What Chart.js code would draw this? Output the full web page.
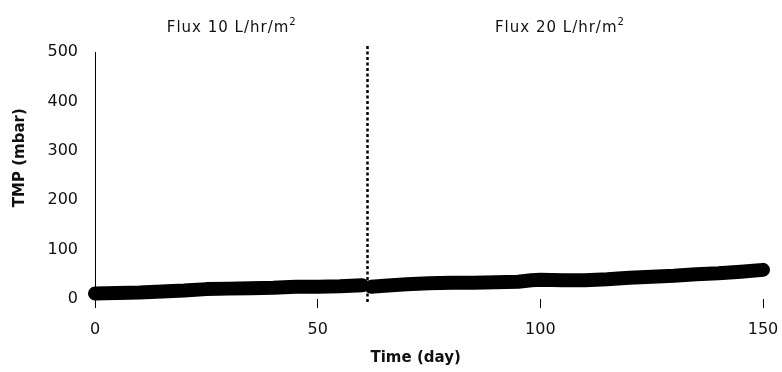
<!DOCTYPE html>
<html>
<head>
<meta charset="utf-8">
<script src="https://cdn.jsdelivr.net/npm/chart.js@4"></script>
<style>
  html, body { margin: 0; padding: 0; background: #fff; }
  #wrap { width: 782px; height: 372px; }
</style>
</head>
<body>
<div id="wrap"><canvas id="c" width="782" height="372"></canvas></div>
<script>
// ---- data ----
const days1 = [0, 5, 10, 15, 20, 25, 30, 35, 40, 45, 50, 55, 60];
const tmp1  = [11, 12, 13, 15, 17, 20, 21, 22, 23, 25, 25, 26, 28];
const days2 = [62, 65, 70, 75, 80, 85, 90, 95, 98, 100, 105, 110, 115, 120, 125, 130, 135, 140, 145, 150];
const tmp2  = [25, 27, 30, 32, 33, 33, 34, 35, 38, 39, 38, 38, 40, 43, 45, 47, 50, 52, 55, 59];
const xTicks = [0, 50, 100, 150];
const yTicks = [0, 100, 200, 300, 400, 500];
const switchDay = 61;
const phaseLabels = [["Flux 10 L/hr/m", "2"], ["Flux 20 L/hr/m", "2"]];
const phaseCenters = [30.7, 104.4];
const xTitle = "Time (day)";
const yTitle = "TMP (mbar)";

const toPts = (xs, ys) => xs.map((x, i) => ({ x: x, y: ys[i] }));

const decor = {
  id: 'decor',
  afterDraw(chart) {
    const ctx = chart.ctx;
    const xs = chart.scales.x, ys = chart.scales.y;
    ctx.save();
    // dotted divider
    const px = Math.round(xs.getPixelForValue(switchDay)) + 0.5;
    ctx.strokeStyle = '#000';
    ctx.lineWidth = 2.5;
    ctx.setLineDash([3, 2.5]);
    ctx.beginPath();
    ctx.moveTo(px, 46);
    ctx.lineTo(px, 302);
    ctx.stroke();
    ctx.setLineDash([]);
    // phase labels
    ctx.fillStyle = '#111';
    ctx.textBaseline = 'alphabetic';
    phaseLabels.forEach((lab, i) => {
      ctx.font = '15px "DejaVu Sans"';
      ctx.letterSpacing = '1px';
      const w1 = ctx.measureText(lab[0]).width;
      ctx.font = '10px "DejaVu Sans"';
      const w2 = ctx.measureText(lab[1]).width;
      const cx = xs.getPixelForValue(phaseCenters[i]);
      const left = cx - (w1 + w2) / 2;
      ctx.textAlign = 'left';
      ctx.font = '15px "DejaVu Sans"';
      ctx.fillText(lab[0], left, 32);
      ctx.font = '10px "DejaVu Sans"';
      ctx.fillText(lab[1], left + w1, 25);
    });
    ctx.letterSpacing = '0px';
    // axis titles
    ctx.font = 'bold 15px "DejaVu Sans"';
    ctx.textAlign = 'center';
    ctx.textBaseline = 'middle';
    ctx.fillText(xTitle, xs.getPixelForValue(72), 358);
    ctx.translate(20, ys.getPixelForValue(286));
    ctx.rotate(-Math.PI / 2);
    ctx.fillText(yTitle, 0, 0);
    ctx.restore();
  }
};

new Chart(document.getElementById('c'), {
  type: 'line',
  data: {
    datasets: [
      { data: toPts(days1, tmp1), borderColor: '#000', borderWidth: 14, borderCapStyle: 'round', borderJoinStyle: 'round', pointRadius: 0, tension: 0, clip: false },
      { data: toPts(days2, tmp2), borderColor: '#000', borderWidth: 14, borderCapStyle: 'round', borderJoinStyle: 'round', pointRadius: 0, tension: 0, clip: false }
    ]
  },
  options: {
    responsive: false,
    animation: false,
    layout: { padding: { top: 52, left: 0, right: 19, bottom: 0 } },
    plugins: { legend: { display: false }, tooltip: { enabled: false } },
    scales: {
      x: {
        type: 'linear', min: 0, max: 150,
        afterBuildTicks: (s) => { s.ticks = xTicks.map(v => ({ value: v })); },
        afterFit: (s) => { s.height = 73; s.paddingLeft = 0; s.paddingRight = 0; },
        grid: { display: true, drawOnChartArea: false, drawTicks: true, tickLength: 9, color: '#000', lineWidth: 1 },
        border: { display: false },
        ticks: { color: '#111', font: { family: 'DejaVu Sans', size: 16 }, padding: 12, maxRotation: 0 }
      },
      y: {
        type: 'linear', min: 0, max: 500,
        afterBuildTicks: (s) => { s.ticks = yTicks.map(v => ({ value: v })); },
        afterFit: (s) => { s.width = 95; s.paddingTop = 0; s.paddingBottom = 0; },
        grid: { display: false, drawTicks: false },
        border: { display: true, color: '#000', width: 1 },
        ticks: { color: '#111', font: { family: 'DejaVu Sans', size: 16 }, padding: 17 }
      }
    }
  },
  plugins: [decor]
});
</script>
</body>
</html>
